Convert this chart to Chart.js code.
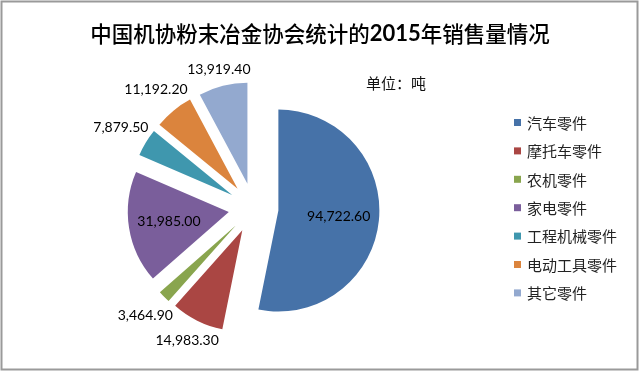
<!DOCTYPE html>
<html><head><meta charset="utf-8">
<script src="https://cdn.jsdelivr.net/npm/chart.js@4.4.1/dist/chart.umd.min.js"></script>
<style>html,body{margin:0;padding:0;background:#fff;overflow:hidden}canvas{display:block}</style>
</head><body>
<canvas id="c" width="640" height="373"></canvas>
<script>
// ---- data ----
const chartTitle = '中国机协粉末冶金协会统计的2015年销售量情况';
const unitLabel = '单位：吨';
const categories = ['汽车零件', '摩托车零件', '农机零件', '家电零件', '工程机械零件', '电动工具零件', '其它零件'];
const salesTons = [94722.60, 14983.30, 3464.90, 31985.00, 7879.50, 11192.20, 13919.40];
const sliceColors = ['#4672A8', '#AA4643', '#89A54E', '#7A5E9B', '#3F97AE', '#DB843D', '#93A9CF'];

// ---- style constants ----
const EXPLODE = 25;
const RADIUS = 101;
const CJK = '"Noto Sans CJK SC", "Noto Sans", sans-serif';
const NUMF = 'Lato, "Open Sans", sans-serif';

function fmt(v) {
  return v.toLocaleString('en-US', {minimumFractionDigits: 2, maximumFractionDigits: 2});
}

const framePlugin = {
  id: 'frame',
  beforeDraw(chart) {
    const ctx = chart.ctx;
    ctx.save();
    ctx.fillStyle = '#fff';
    ctx.fillRect(0, 0, chart.width, chart.height);
    ctx.restore();
  },
  afterDraw(chart) {
    const ctx = chart.ctx;
    ctx.save();
    // frame
    ctx.strokeStyle = '#9a9a9a';
    ctx.lineWidth = 2;
    ctx.strokeRect(1.5, 1.5, chart.width - 4, chart.height - 5);
    // title (digits bold)
    const parts = chartTitle.split(/(\d+)/).filter(s => s.length);
    const fonts = parts.map(p => /^\d+$/.test(p) ? 'bold 22px Lato, "Noto Sans", sans-serif' : '500 21.5px ' + CJK);
    let total = 0;
    const widths = parts.map((p, i) => { ctx.font = fonts[i]; const w = ctx.measureText(p).width; total += w; return w; });
    let x = 320 - total / 2;
    ctx.fillStyle = '#000';
    ctx.textBaseline = 'middle';
    ctx.textAlign = 'left';
    parts.forEach((p, i) => { ctx.font = fonts[i]; ctx.fillText(p, x, 34); x += widths[i]; });
    // unit label
    ctx.font = '15px ' + CJK;
    ctx.fillStyle = '#111';
    ctx.fillText(unitLabel, 366, 83);
    // legend
    ctx.font = '15px ' + CJK;
    categories.forEach((c, i) => {
      const y = 122.5 + i * 28.4;
      ctx.fillStyle = sliceColors[i];
      ctx.fillRect(514, y - 3.5, 7, 7);
      ctx.fillStyle = '#222';
      ctx.fillText(c, 527, y + 0.5);
    });
    ctx.restore();
  }
};

const explodePlugin = {
  id: 'explode',
  beforeDatasetDraw(chart, args) {
    const ctx = chart.ctx;
    args.meta.data.forEach(arc => {
      const mid = (arc.startAngle + arc.endAngle) / 2;
      ctx.save();
      ctx.translate(Math.cos(mid) * EXPLODE, Math.sin(mid) * EXPLODE);
      arc.draw(ctx);
      ctx.restore();
    });
    return false;
  },
  afterDatasetsDraw(chart) {
    const ctx = chart.ctx;
    const meta = chart.getDatasetMeta(0);
    const sum = salesTons.reduce((a, b) => a + b, 0);
    ctx.save();
    ctx.font = '14px ' + NUMF;
    ctx.fillStyle = '#000';
    ctx.textAlign = 'center';
    ctx.textBaseline = 'middle';
    meta.data.forEach((arc, i) => {
      const p = arc.getProps(['x', 'y', 'startAngle', 'endAngle', 'outerRadius'], true);
      const mid = (p.startAngle + p.endAngle) / 2;
      const dx = Math.cos(mid), dy = Math.sin(mid);
      const text = fmt(salesTons[i]);
      const w = ctx.measureText(text).width, h = 14;
      let cx, cy;
      if (salesTons[i] / sum > 0.15) {
        const d = EXPLODE + p.outerRadius * 0.6;
        cx = p.x + dx * d; cy = p.y + dy * d;
      } else {
        const d = EXPLODE + p.outerRadius + 2;
        const t = Math.abs(dx) * w / 2 + Math.abs(dy) * h / 2;
        cx = p.x + dx * (d + t); cy = p.y + dy * (d + t);
      }
      ctx.fillText(text, cx, cy);
    });
    ctx.restore();
  }
};

new Chart(document.getElementById('c'), {
  type: 'pie',
  data: {
    labels: categories,
    datasets: [{
      data: salesTons,
      backgroundColor: sliceColors,
      borderWidth: 0,
      radius: RADIUS,
      hoverOffset: 0
    }]
  },
  options: {
    responsive: false,
    animation: false,
    events: [],
    layout: {padding: {left: 0, right: 133, top: 50, bottom: 7}},
    plugins: {legend: {display: false}, title: {display: false}, tooltip: {enabled: false}}
  },
  plugins: [framePlugin, explodePlugin]
});
</script>
</body></html>
